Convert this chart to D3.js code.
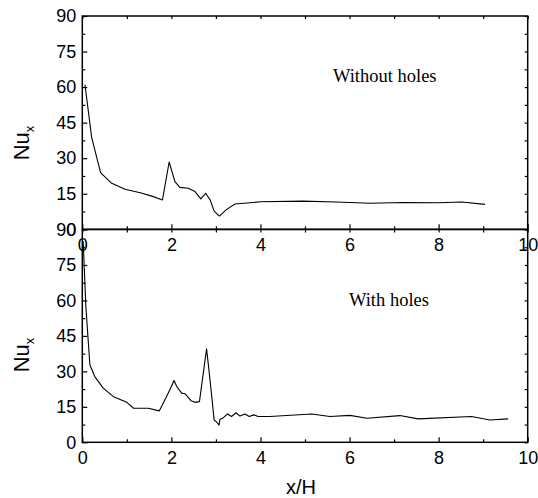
<!DOCTYPE html>
<html>
<head>
<meta charset="utf-8">
<script src="https://cdn.jsdelivr.net/npm/d3@7"></script>
<style>
  html, body { margin: 0; padding: 0; background: #fff; }
  svg { display: block; }
</style>
</head>
<body>
<svg id="chart" width="538" height="498"></svg>
<script>
// ---- data ----
const withoutHolesX = [0.06, 0.21, 0.41, 0.66, 0.96, 1.30, 1.56, 1.80, 1.95, 2.08, 2.19, 2.38, 2.53, 2.66, 2.77, 2.87, 2.96, 3.08, 3.24, 3.43, 4.0, 4.95, 5.7, 6.46, 7.2, 8.0, 8.52, 9.04];
const withoutHolesY = [61.0, 38.8, 23.9, 19.4, 16.9, 15.4, 14.0, 12.4, 28.4, 20.1, 17.7, 17.3, 15.9, 12.8, 15.2, 12.4, 7.7, 5.6, 8.4, 10.7, 11.6, 11.9, 11.5, 11.0, 11.3, 11.2, 11.5, 10.5];

const withHolesX = [0.02, 0.08, 0.17, 0.28, 0.47, 0.70, 1.0, 1.15, 1.48, 1.73, 1.89, 2.0, 2.06, 2.12, 2.23, 2.31, 2.44, 2.53, 2.63, 2.79, 2.86, 2.96, 3.01, 3.07, 3.09, 3.17, 3.26, 3.35, 3.45, 3.54, 3.65, 3.75, 3.85, 3.95, 4.18, 4.21, 5.15, 5.56, 6.01, 6.39, 7.13, 7.54, 8.74, 9.15, 9.56];
const withHolesY = [85.0, 57.5, 32.8, 27.8, 22.9, 19.3, 16.9, 14.4, 14.4, 13.3, 19.3, 23.6, 26.1, 23.6, 20.8, 20.5, 17.6, 16.9, 17.2, 39.5, 27.8, 9.4, 8.7, 7.3, 9.7, 10.4, 12.0, 10.9, 12.5, 11.1, 12.0, 10.9, 11.6, 10.9, 10.9, 10.9, 12.0, 10.9, 11.4, 10.2, 11.3, 9.9, 10.9, 9.4, 9.9];

const xMajorTicks = [0, 2, 4, 6, 8, 10];
const xMinorTicks = [1, 3, 5, 7, 9];
const yMajorTicks = [0, 15, 30, 45, 60, 75, 90];
const yMinorTicks = [7.5, 22.5, 37.5, 52.5, 67.5, 82.5];
const panelLabels = ["Without holes", "With holes"];
const yTitle = "Nu";
const yTitleSub = "x";
const xTitle = "x/H";

// ---- layout ----
const svg = d3.select("#chart");
const left = 82.3, right = 527.7;
const x = d3.scaleLinear().domain([0, 10]).range([left, right]);
const panels = [
  { top: 16, bottom: 229.3, xs: withoutHolesX, ys: withoutHolesY, label: panelLabels[0], lx: 333, ly: 82, ty: 143 },
  { top: 229.5, bottom: 442.3, xs: withHolesX, ys: withHolesY, label: panelLabels[1], lx: 349, ly: 306, ty: 355 }
];
const axisFont = "'Liberation Sans', Arial, Helvetica, sans-serif";
const serifFont = "'Liberation Serif', 'Times New Roman', Times, serif";

function styleAxis(g) {
  g.select(".domain").remove();
  g.selectAll("line").attr("stroke", "#000").attr("stroke-width", 1.2);
  g.selectAll("text").attr("font-family", axisFont).attr("font-size", 18).attr("fill", "#000");
}

panels.forEach((p, i) => {
  const y = d3.scaleLinear().domain([0, 90]).range([p.bottom, p.top]);
  const g = svg.append("g");

  // data line
  const pts = p.xs.map((v, k) => [v, p.ys[k]]);
  g.append("path")
    .datum(pts)
    .attr("fill", "none")
    .attr("stroke", "#000")
    .attr("stroke-width", 1.1)
    .attr("stroke-linejoin", "round")
    .attr("d", d3.line().x(d => x(d[0])).y(d => y(d[1])));

  // bottom axis (major + minor, inward ticks)
  g.append("g").attr("transform", `translate(0,${p.bottom})`)
    .call(d3.axisBottom(x).tickValues(xMajorTicks).tickSizeInner(-5).tickSizeOuter(0).tickPadding(9).tickFormat(d3.format("d")))
    .call(styleAxis);
  g.append("g").attr("transform", `translate(0,${p.bottom})`)
    .call(d3.axisBottom(x).tickValues(xMinorTicks).tickSizeInner(-3).tickSizeOuter(0).tickFormat(""))
    .call(styleAxis);
  // top axis ticks
  g.append("g").attr("transform", `translate(0,${p.top})`)
    .call(d3.axisTop(x).tickValues(xMajorTicks.concat(xMinorTicks)).tickSizeInner(-3).tickSizeOuter(0).tickFormat(""))
    .call(styleAxis);
  // left axis
  g.append("g").attr("transform", `translate(${left},0)`)
    .call(d3.axisLeft(y).tickValues(yMajorTicks).tickSizeInner(-5).tickSizeOuter(0).tickPadding(6).tickFormat(d3.format("d")))
    .call(styleAxis);
  g.append("g").attr("transform", `translate(${left},0)`)
    .call(d3.axisLeft(y).tickValues(yMinorTicks).tickSizeInner(-3).tickSizeOuter(0).tickFormat(""))
    .call(styleAxis);
  // right axis ticks
  g.append("g").attr("transform", `translate(${right},0)`)
    .call(d3.axisRight(y).tickValues(yMajorTicks.concat(yMinorTicks)).tickSizeInner(-3).tickSizeOuter(0).tickFormat(""))
    .call(styleAxis);

  // frame
  g.append("rect")
    .attr("x", left).attr("y", p.top)
    .attr("width", right - left).attr("height", p.bottom - p.top)
    .attr("fill", "none").attr("stroke", "#000").attr("stroke-width", 1.5);

  // panel annotation
  g.append("text")
    .attr("x", p.lx).attr("y", p.ly)
    .attr("font-family", serifFont).attr("font-size", 18.5)
    .text(p.label);

  // y title
  const t = g.append("text")
    .attr("transform", `translate(29,${p.ty}) rotate(-90)`)
    .attr("text-anchor", "middle")
    .attr("font-family", axisFont).attr("font-size", 22);
  t.append("tspan").text(yTitle);
  t.append("tspan").attr("font-size", 13).attr("dy", 5).text(yTitleSub);
});

// x title
svg.append("text")
  .attr("x", 301).attr("y", 494)
  .attr("text-anchor", "middle")
  .attr("font-family", axisFont).attr("font-size", 20)
  .text(xTitle);
</script>
</body>
</html>
